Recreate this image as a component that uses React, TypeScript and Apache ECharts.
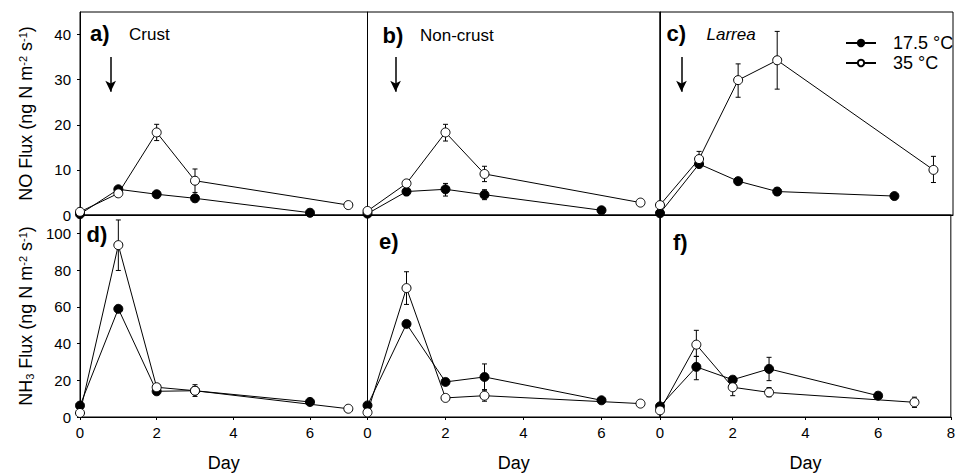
import React, { useEffect, useRef } from "react";
import * as echarts from "echarts";

const FONT = '"Liberation Sans", Arial, Helvetica, sans-serif';

// Sampling days
const days17 = [0, 1, 2, 3, 6];
const days35 = [0, 1, 2, 3, 7];

// NO flux (top row)
const crustNO17 = [0.2, 5.7, 4.6, 3.7, 0.5];
const crustNO35 = [0.7, 4.8, 18.3, 7.6, 2.2];
const nonNO17 = [0.3, 5.2, 5.7, 4.5, 1.05];
const nonNO35 = [0.9, 7.0, 18.3, 9.1, 2.75];
const larNO17 = [0.4, 11.3, 7.5, 5.2, 4.2];
const larNO35 = [2.2, 12.4, 29.9, 34.3, 10.0];

// NH3 flux (bottom row)
const crustNH17 = [6.2, 58.9, 14.0, 14.3, 8.2];
const crustNH35 = [2.2, 93.6, 16.2, 14.3, 4.5];
const nonNH17 = [6.3, 50.7, 19.1, 21.8, 9.1];
const nonNH35 = [2.5, 70.2, 10.4, 11.6, 7.3];
const larNH17 = [5.8, 27.3, 20.3, 26.2, 11.6];
const larNH35 = [3.6, 39.4, 16.2, 13.4, 8.0];

// Error bars: [day, low, high]
const errCrustNO17: number[][] = [];
const errCrustNO35 = [[2, 16.5, 20.1], [3, 5.0, 10.2]];
const errNonNO17 = [[1, 4.3, 6.1], [2, 4.2, 7.0], [3, 3.4, 5.6]];
const errNonNO35 = [[2, 16.4, 20.1], [3, 7.4, 10.8]];
const errLarNO17 = [[3, 4.4, 6.0]];
const errLarNO35 = [[1, 10.8, 14.1], [2, 26.1, 33.5], [3, 27.9, 40.7], [7, 7.2, 13.0]];
const errCrustNH17: number[][] = [];
const errCrustNH35 = [[1, 79.8, 107.3], [3, 11.2, 17.6]];
const errNonNH17 = [[3, 14.9, 28.9]];
const errNonNH35 = [[1, 61.3, 79.1], [3, 8.6, 14.6]];
const errLarNH17 = [[1, 20.3, 33.0], [2, 18.5, 22.0], [3, 19.8, 32.5]];
const errLarNH35 = [[1, 33.0, 47.2], [2, 11.6, 19.5], [3, 11.0, 16.0], [7, 5.2, 10.8]];

// Wetting arrows (day position, from value, to value) in top panels
const arrowDays = [0.8, 0.72, 0.55];
const arrowFrom = 35;
const arrowTo = 27.3;

const seriesNames = ["17.5 °C", "35 °C"];
const panelLetters = ["a)", "b)", "c)", "d)", "e)", "f)"];
const panelTitles = ["Crust", "Non-crust", "Larrea"];

const panels = [
  { v17: crustNO17, v35: crustNO35, e17: errCrustNO17, e35: errCrustNO35 },
  { v17: nonNO17, v35: nonNO35, e17: errNonNO17, e35: errNonNO35 },
  { v17: larNO17, v35: larNO35, e17: errLarNO17, e35: errLarNO35 },
  { v17: crustNH17, v35: crustNH35, e17: errCrustNH17, e35: errCrustNH35 },
  { v17: nonNH17, v35: nonNH35, e17: errNonNH17, e35: errNonNH35 },
  { v17: larNH17, v35: larNH35, e17: errLarNH17, e35: errLarNH35 },
];

const gridBoxes = [
  { left: 80, top: 12, width: 287.5, height: 203 },
  { left: 367.5, top: 12, width: 292.5, height: 203 },
  { left: 660, top: 12, width: 293, height: 203 },
  { left: 80, top: 215, width: 287.5, height: 202 },
  { left: 367.5, top: 215, width: 292.5, height: 202 },
  { left: 660, top: 215, width: 293, height: 202 },
];

const labelPos = [
  { lx: 90, ly: 33, tx: 129, ty: 34 },
  { lx: 382.5, ly: 35, tx: 420, ty: 35 },
  { lx: 666.5, ly: 33, tx: 706.5, ty: 34 },
  { lx: 86.5, ly: 234, tx: 0, ty: 0 },
  { lx: 379, ly: 241, tx: 0, ty: 0 },
  { lx: 673, ly: 242, tx: 0, ty: 0 },
];

const errRender = (params: any, api: any) => {
  const x = api.value(0);
  const lo = api.coord([x, api.value(1)]);
  const hi = api.coord([x, api.value(2)]);
  const w = 2.5;
  const style = { stroke: "#000", lineWidth: 1 };
  return {
    type: "group",
    children: [
      { type: "line", shape: { x1: hi[0], y1: hi[1], x2: lo[0], y2: lo[1] }, style },
      { type: "line", shape: { x1: hi[0] - w, y1: hi[1], x2: hi[0] + w, y2: hi[1] }, style },
      { type: "line", shape: { x1: lo[0] - w, y1: lo[1], x2: lo[0] + w, y2: lo[1] }, style },
    ],
  };
};

export default function App() {
  const ref = useRef<HTMLDivElement>(null);
  useEffect(() => {
    document.body.style.margin = "0";
    if (!ref.current) return;
    const chart = echarts.init(ref.current, undefined, { renderer: "svg" });

    const richName = {
      m: { fontSize: 18, lineHeight: 18, fontFamily: FONT, color: "#000" },
      s: { fontSize: 11, lineHeight: 6, verticalAlign: "top", fontFamily: FONT, color: "#000" },
      b: { fontSize: 11, lineHeight: 6, verticalAlign: "bottom", fontFamily: FONT, color: "#000" },
    };

    const grid = gridBoxes.map((g) => ({
      ...g,
      show: true,
      borderColor: "#000",
      borderWidth: 1,
      backgroundColor: "transparent",
      containLabel: false,
    }));

    const xAxis = gridBoxes.map((_, i) => {
      const bottom = i >= 3;
      return {
        type: "value",
        gridIndex: i,
        min: 0,
        max: i === 5 || i === 2 ? (i === 5 ? 8 : 7.5) : 7.5,
        interval: 2,
        axisLine: { show: true, onZero: false, lineStyle: { color: "#000", width: 1 } },
        axisTick: { show: bottom, length: 3, lineStyle: { color: "#000" } },
        axisLabel: {
          show: bottom,
          fontSize: 15,
          color: "#000",
          fontFamily: FONT,
          margin: 8,
          showMaxLabel: i === 5,
        },
        splitLine: { show: false },
        name: bottom ? "Day" : "",
        nameLocation: "middle",
        nameGap: 37,
        nameTextStyle: { fontSize: 18, color: "#000", fontFamily: FONT },
      };
    });

    const yAxis = gridBoxes.map((_, i) => {
      const bottom = i >= 3;
      const first = i === 0 || i === 3;
      return {
        type: "value",
        gridIndex: i,
        min: 0,
        max: bottom ? 110 : 45,
        interval: bottom ? 20 : 10,
        axisLine: { show: true, lineStyle: { color: "#000", width: 1 } },
        axisTick: { show: first, length: 3, lineStyle: { color: "#000" } },
        axisLabel: {
          show: first,
          fontSize: 15,
          color: "#000",
          fontFamily: FONT,
          margin: 9,
          showMaxLabel: false,
        },
        splitLine: { show: false },
        name: first
          ? bottom
            ? "{m|NH}{b|3}{m| Flux (ng N m}{s|-2}{m| s}{s|-1}{m|)}"
            : "{m|NO Flux (ng N m}{s|-2}{m| s}{s|-1}{m|)}"
          : "",
        nameLocation: "middle",
        nameGap: 45,
        nameTextStyle: { fontSize: 18, color: "#000", fontFamily: FONT, rich: richName },
      };
    });

    const series: any[] = [];
    panels.forEach((p, i) => {
      [p.e17, p.e35].forEach((e) => {
        if (e.length)
          series.push({
            type: "custom",
            xAxisIndex: i,
            yAxisIndex: i,
            renderItem: errRender,
            data: e,
            encode: { x: 0, y: [1, 2] },
            z: 1,
            silent: true,
          });
      });
      const s17: any = {
        type: "line",
        name: seriesNames[0],
        xAxisIndex: i,
        yAxisIndex: i,
        data: days17.map((d, k) => [d, p.v17[k]]),
        symbol: "circle",
        symbolSize: 9,
        itemStyle: { color: "#000", borderColor: "#000", borderWidth: 1 },
        lineStyle: { color: "#000", width: 1 },
        z: 2,
        silent: true,
      };
      if (i < 3) {
        s17.markLine = {
          silent: true,
          symbol: ["none", "arrow"],
          symbolSize: [8, 11],
          label: { show: false },
          emphasis: { disabled: true },
          lineStyle: { color: "#000", width: 1.5, type: "solid" },
          data: [[{ coord: [arrowDays[i], arrowFrom] }, { coord: [arrowDays[i], arrowTo] }]],
        };
      }
      series.push(s17);
      series.push({
        type: "line",
        name: seriesNames[1],
        xAxisIndex: i,
        yAxisIndex: i,
        data: days35.map((d, k) => [d, p.v35[k]]),
        symbol: "circle",
        symbolSize: 9,
        itemStyle: { color: "#fff", borderColor: "#000", borderWidth: 1 },
        lineStyle: { color: "#000", width: 1 },
        z: 3,
        silent: true,
      });
    });

    const graphic: any[] = [];
    labelPos.forEach((lp, i) => {
      graphic.push({
        type: "text",
        x: lp.lx,
        y: lp.ly,
        style: {
          text: panelLetters[i],
          font: `bold 22px ${FONT}`,
          fill: "#000",
          verticalAlign: "middle",
        },
      });
      if (i < 3) {
        graphic.push({
          type: "text",
          x: lp.tx,
          y: lp.ty,
          style: {
            text: panelTitles[i],
            font: `${i === 2 ? "italic " : ""}17px ${FONT}`,
            fill: "#000",
            verticalAlign: "middle",
          },
        });
      }
    });

    chart.setOption({
      animation: false,
      backgroundColor: "#fff",
      grid,
      xAxis,
      yAxis,
      series,
      graphic,
      legend: {
        data: seriesNames,
        orient: "vertical",
        left: 840,
        top: 29,
        itemWidth: 30,
        itemHeight: 8,
        itemGap: 2,
        selectedMode: false,
        textStyle: {
          fontSize: 18,
          lineHeight: 18,
          color: "#000",
          fontFamily: FONT,
          padding: [0, 0, 0, 12],
        },
      },
    });
    return () => chart.dispose();
  }, []);
  return <div ref={ref} style={{ width: 958, height: 474 }} />;
}
